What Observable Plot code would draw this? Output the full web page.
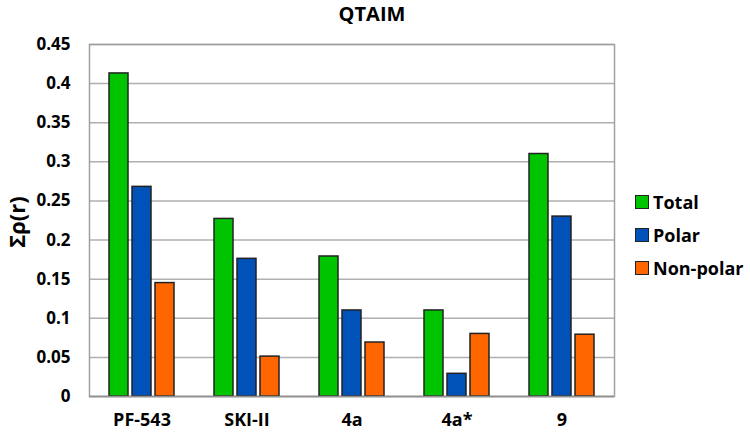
<!DOCTYPE html>
<html><head><meta charset="utf-8">
<script src="https://cdn.jsdelivr.net/npm/d3@7"></script>
<script src="https://cdn.jsdelivr.net/npm/@observablehq/plot@0.6"></script>
<style>
body{margin:0;background:#fff;font-family:"Open Sans",sans-serif;}
#wrap{position:relative;width:750px;height:434px;overflow:hidden;}
#chart{position:absolute;left:0;top:0;}
#title{position:absolute;left:0;top:0;width:744px;text-align:center;font-size:20px;font-weight:bold;color:#000;line-height:28px;}
#ylabel{position:absolute;left:16px;top:222px;transform:translate(-50%,-50%) rotate(-90deg);font-size:22px;font-weight:bold;white-space:nowrap;color:#000;line-height:30px;}
#legend{position:absolute;left:635px;top:0;}
.item{position:absolute;left:0;display:flex;align-items:center;white-space:nowrap;font-size:18px;font-weight:bold;color:#000;transform:translateY(-50%);}
.sw{width:12px;height:12px;border:1.5px solid #222;margin-right:4px;}
g[aria-label="fx-axis tick label"]{font-size:18px;}
</style></head><body>
<div id="wrap">
  <div id="chart"></div>
  <div id="title">QTAIM</div>
  <div id="ylabel">Σρ(r)</div>
  <div id="legend"></div>
</div>
<script>
const categories = ["PF-543", "SKI-II", "4a", "4a*", "9"];
const seriesNames = ["Total", "Polar", "Non-polar"];
const totalValues = [0.413, 0.227, 0.179, 0.110, 0.310];
const polarValues = [0.268, 0.176, 0.110, 0.029, 0.230];
const nonPolarValues = [0.145, 0.051, 0.069, 0.080, 0.079];
const seriesColors = ["#00c400", "#0052b8", "#ff6600"];
const yTicks = [0, 0.05, 0.1, 0.15, 0.2, 0.25, 0.3, 0.35, 0.4, 0.45];
const legendY = [202, 235, 268];

const valuesBySeries = [totalValues, polarValues, nonPolarValues];
const data = [];
categories.forEach((c, i) => {
  seriesNames.forEach((s, j) => {
    data.push({category: c, series: s, value: valuesBySeries[j][i]});
  });
});

const chart = Plot.plot({
  width: 750,
  height: 434,
  marginTop: 44,
  marginBottom: 38,
  marginLeft: 88,
  marginRight: 136,
  style: {fontFamily: "'Open Sans', sans-serif", fontSize: "17px", fontWeight: "bold", color: "#000", background: "transparent"},
  fx: {domain: categories, padding: 0, label: null, tickSize: 0, tickPadding: 17},
  x: {domain: seriesNames, paddingInner: 0.19, paddingOuter: 0.85, axis: null},
  y: {domain: [0, 0.45], ticks: yTicks, tickSize: 0, tickPadding: 19, label: null,
      tickFormat: d => String(+d.toFixed(2))},
  color: {domain: seriesNames, range: seriesColors},
  marks: [
    Plot.ruleY(yTicks, {stroke: "#b0b0b0", strokeWidth: 1.5}),
    Plot.frame({facet: "super", stroke: "#a0a0a0", strokeWidth: 1.5}),
    Plot.barY(data, {fx: "category", x: "series", y: "value", fill: "series", stroke: "#222", strokeWidth: 1.5}),
    Plot.ruleY([0], {stroke: "#909090", strokeWidth: 1.5})
  ]
});
document.getElementById("chart").appendChild(chart);

const legend = document.getElementById("legend");
seriesNames.forEach((s, i) => {
  const item = document.createElement("div");
  item.className = "item";
  item.style.top = legendY[i] + "px";
  const sw = document.createElement("div");
  sw.className = "sw";
  sw.style.background = seriesColors[i];
  const t = document.createElement("span");
  t.textContent = s;
  item.appendChild(sw);
  item.appendChild(t);
  legend.appendChild(item);
});
</script>
</body></html>
